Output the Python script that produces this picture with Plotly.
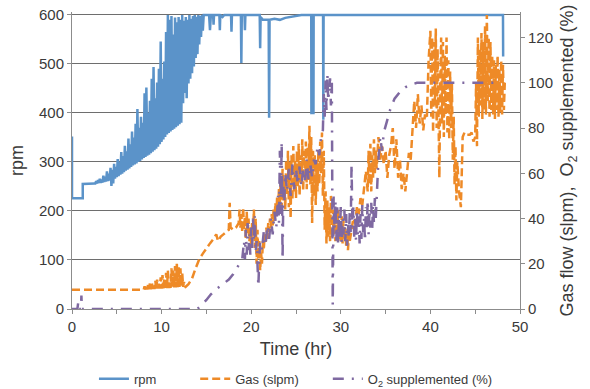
import plotly.graph_objects as go

# ---------------- rpm (left axis) ----------------
rpm_t = [0, 0, 1.2, 1.2, 2.5,
         2.6, 2.7, 2.8, 2.9, 3.0, 3.1, 3.2, 3.3, 3.4, 3.5, 3.6, 3.7, 3.8, 3.9,
         4.0, 4.1, 4.2, 4.3, 4.4, 4.5, 4.6, 4.7, 4.8, 4.9, 5.0, 5.1, 5.2, 5.3,
         5.4, 5.5, 5.6, 5.7, 5.8, 5.9, 6.0, 6.1, 6.2, 6.3, 6.4, 6.5, 6.6, 6.7,
         6.8, 6.9, 7.0, 7.1, 7.2, 7.3, 7.4, 7.5, 7.6, 7.7, 7.8, 7.9, 8.0, 8.1,
         8.2, 8.3, 8.4, 8.5, 8.6, 8.7, 8.8, 8.9, 9.0, 9.1, 9.2, 9.3, 9.4, 9.5,
         9.6, 9.7, 9.8, 9.9, 10.0, 10.1, 10.2, 10.3, 10.4, 10.5, 10.6, 10.7,
         10.8, 10.9, 11.0, 11.1, 11.2, 11.3, 11.4, 11.5, 11.6, 11.7, 11.8, 11.9,
         12.0, 12.1, 12.2, 12.3, 12.4, 12.5, 12.6, 12.7, 12.8, 12.9, 13.0, 13.1,
         13.2, 13.3, 13.4, 13.5, 13.6, 13.7, 13.8, 13.9, 14.0, 14.1, 14.2, 14.3,
         14.4, 14.5, 14.6, 14.7,
         14.9, 15.3, 15.4, 15.5, 15.75, 15.8, 15.85, 16.45, 16.5, 16.55, 16.8, 17.0,
         17.75, 17.8, 17.85, 18.85, 18.9, 18.95, 19.25, 19.3, 19.35, 20.95, 21.0, 21.05,
         21.3, 21.95, 22.0, 22.05, 22.6, 23.2, 23.8, 24.5, 25.3, 25.6, 26.7, 26.72,
         26.95, 26.97, 28.02, 28.05, 28.08, 48.1, 48.12]
rpm_v = [352, 226, 226, 255, 256,
         256, 261, 256, 263, 257, 266, 257, 264, 258, 272, 259, 270, 260, 281,
         261, 276, 262, 288, 251, 284, 256, 296, 266, 290, 269, 306, 271, 300,
         274, 320, 276, 312, 279, 333, 282, 322, 284, 348, 287, 336, 290, 362,
         293, 350, 295, 378, 297, 408, 300, 370, 302, 392, 305, 380, 308, 440,
         310, 452, 313, 400, 315, 425, 318, 470, 321, 494, 324, 430, 327, 462,
         331, 490, 336, 546, 341, 470, 346, 505, 351, 565, 356, 600,
         359, 590, 362, 598, 365, 560, 368, 595, 371, 585, 374, 596,
         377, 590, 380, 600, 420, 588, 441, 596, 430, 590, 460, 600,
         470, 592, 481, 598, 495, 600, 512, 596, 520, 600, 540, 598,
         555, 600, 568, 600,
         600, 600, 569, 600, 600, 580, 600, 600, 569, 600, 596, 600,
         600, 566, 600, 600, 502, 600, 600, 569, 600, 600, 532, 596,
         590, 590, 390, 590, 592, 590, 594, 596, 598, 600, 600, 400,
         400, 600, 600, 386, 600, 600, 515]

# ---------------- Gas flow, slpm (right axis) ----------------
gas_t = [0.0, 8.0,
         8.1, 8.2, 8.3, 8.4, 8.5, 8.6, 8.7, 8.8, 8.9, 9.0, 9.1, 9.2, 9.3, 9.4, 9.5,
         9.6, 9.7, 9.8, 9.9, 10.0, 10.1, 10.2, 10.3, 10.4, 10.5, 10.6, 10.7, 10.8,
         10.9, 11.0, 11.1, 11.2, 11.3, 11.4, 11.5, 11.6, 11.7, 11.8, 11.9, 12.0,
         12.1, 12.2, 12.3, 12.4, 12.5,
         12.6, 13.0, 13.4, 13.8, 14.2, 14.6, 15.0, 15.4, 15.8, 16.1, 16.3, 16.6,
         16.9, 17.2, 17.5, 17.6, 17.7, 18.0, 18.3, 18.6,
         18.7, 18.8, 18.9, 19.0, 19.1, 19.2, 19.3, 19.4, 19.5, 19.6, 19.7, 19.8,
         19.9, 20.0, 20.1, 20.2, 20.3, 20.4, 20.5, 20.6, 20.7, 20.8, 20.9, 21.0,
         21.1, 21.2, 21.3, 21.4, 21.5, 21.6, 21.7, 21.8, 21.9, 22.0, 22.1, 22.2,
         22.3, 22.4, 22.5, 22.6, 22.7, 22.8, 22.9, 23.0, 23.1, 23.2, 23.3, 23.4,
         23.5, 23.6, 23.7, 23.8, 23.9, 24.0, 24.1, 24.2, 24.3, 24.4, 24.5, 24.6,
         24.7, 24.8, 24.9, 25.0, 25.1, 25.2, 25.3, 25.4, 25.5, 25.6, 25.7, 25.8,
         25.9, 26.0, 26.1, 26.2, 26.3, 26.4, 26.5, 26.6, 26.7, 26.8, 26.9, 27.0,
         27.1, 27.2, 27.3, 27.4, 27.5, 27.6, 27.7, 27.8, 27.9, 28.0, 28.1, 28.2,
         28.3, 28.4, 28.5, 28.6, 28.7, 28.8, 28.9, 29.0, 29.1, 29.2, 29.3, 29.4,
         29.5, 29.6, 29.7, 29.8, 29.9, 30.0, 30.1, 30.2, 30.3, 30.4, 30.5, 30.6,
         30.7, 30.8, 30.9, 31.0, 31.2, 31.4, 31.6, 31.8, 32.0, 32.2, 32.4, 32.6,
         32.8, 33.0, 33.1, 33.2, 33.3, 33.4, 33.5, 33.6, 33.7, 33.8, 33.9, 34.0,
         34.2, 34.4, 34.6, 34.8, 35.0, 35.2, 35.4, 35.6, 35.8, 36.0, 36.2, 36.4,
         36.6, 36.8, 37.0, 37.2, 37.4, 37.6, 37.8, 38.0, 38.2, 38.4, 38.6, 38.8,
         39.0, 39.2, 39.4, 39.6, 39.8, 40.0, 40.1, 40.2, 40.3, 40.4, 40.5, 40.6,
         40.7, 40.8, 40.9, 41.0, 41.1, 41.2, 41.3, 41.4, 41.5, 41.6, 41.7, 41.8,
         41.9, 42.0, 42.1, 42.2, 42.3, 42.4, 42.5, 42.6, 42.7, 42.8, 42.9, 43.0,
         43.2, 43.4, 43.5, 43.6, 43.8, 44.0, 44.4, 44.6, 44.8, 45.0, 45.1, 45.2,
         45.3, 45.4, 45.5, 45.6, 45.7, 45.8, 45.9, 46.0, 46.1, 46.2, 46.3, 46.4,
         46.5, 46.6, 46.7, 46.8, 46.9, 47.0, 47.1, 47.2, 47.3, 47.4, 47.5, 47.6,
         47.7, 47.8, 47.9, 48.0, 48.1, 48.2, 48.3]
gas_v = [8.5, 8.5,
         10, 8.6, 10.5, 8.6, 11, 8.7, 11.5, 8.7, 12, 8.8, 11, 8.8, 12.5, 8.9, 13,
         9, 12, 9, 14, 9, 15, 9.1, 13, 9.2, 16, 9.2, 17, 9.3,
         12, 9.3, 18, 9.4, 17, 9.5, 19, 9.5, 20, 9.6, 19, 9.7,
         18, 9.8, 16, 9.8, 12,
         9.5, 11, 13.5, 18, 22, 24.5, 27, 29, 31, 33, 30, 32,
         33, 34, 35, 47, 36, 35, 36, 38,
         44, 36, 42, 34, 45, 35, 41, 31, 43, 33, 40, 30,
         36, 28, 38, 32, 44, 27, 40, 20, 35, 22, 30, 17,
         25, 20, 30, 26, 33, 29, 36, 31, 38, 34, 40, 36,
         42, 37, 44, 39, 47, 41, 50, 44, 53, 46, 57, 45,
         62, 48, 58, 44, 66, 50, 70, 45, 65, 40, 68, 48,
         72, 52, 66, 49, 70, 54, 73, 50, 68, 55, 75, 52,
         70, 56, 74, 53, 72, 57, 81, 55, 76, 38, 70, 50,
         68, 46, 65, 52, 70, 55, 74, 60, 78, 50, 70, 35,
         52, 29, 48, 32, 45, 30, 50, 31, 44, 33, 42, 30,
         40, 32, 44, 31, 38, 30, 41, 29, 39, 31, 36, 28,
         34, 26, 33, 30, 36, 40, 38, 45, 42, 49, 46, 55,
         61, 52, 70, 55, 73, 52, 68, 58, 75, 60, 70, 62,
         76, 66, 72, 64, 70, 58, 68, 72, 80, 62, 75, 58,
         66, 53, 60, 52, 62, 69, 66, 78, 92, 80, 95, 82,
         90, 79, 86, 84, 110, 123, 85, 120, 78, 118, 90, 124,
         80, 115, 95, 58, 100, 120, 82, 118, 76, 112, 86, 120,
         78, 110, 75, 105, 80, 100, 66, 85, 55, 72, 48, 65,
         52, 45, 60, 76, 78, 77, 77, 78, 74, 76, 100, 72,
         120, 85, 115, 90, 122, 84, 118, 88, 125, 86, 130, 92,
         120, 85, 118, 88, 112, 86, 110, 84, 108, 88, 112, 85,
         106, 87, 110, 86, 108, 88, 100]

# ---------------- O2 supplemented, % (right axis) ----------------
o2_t = [0.0, 0.6, 0.7, 0.8, 1.0, 1.05, 1.1, 14.0,
        14.5, 15.0, 15.5, 16.0, 16.5, 17.0, 17.5, 18.0, 18.5, 19.0,
        19.2, 19.3, 19.4, 19.5, 19.6, 19.7, 19.8, 19.9, 20.0, 20.1, 20.2, 20.3,
        20.4, 20.5, 20.6, 20.7, 20.8, 20.9, 21.0, 21.2, 21.4, 21.6, 21.8, 22.0,
        22.2, 22.4, 22.6, 22.8, 23.0, 23.1, 23.2, 23.3, 23.4, 23.5, 23.6, 23.7,
        23.8, 24.0, 24.2, 24.4, 24.6, 24.8, 25.0, 25.2, 25.4, 25.6, 25.8, 26.0,
        26.2, 26.4, 26.6, 26.8, 27.0, 27.2, 27.4, 27.6, 27.8, 28.0, 28.1, 28.2,
        28.3, 28.4, 28.5, 28.6, 28.8, 28.9, 29.0, 29.1, 29.2, 29.3, 29.4, 29.5,
        29.6, 29.7, 29.8, 29.9, 30.0, 30.1, 30.2, 30.3, 30.4, 30.5, 30.6, 30.7,
        30.8, 30.9, 31.0, 31.1, 31.2, 31.3, 31.4, 31.5, 31.6, 31.7, 31.8, 31.9,
        32.0, 32.1, 32.2, 32.3, 32.4, 32.5, 32.6, 32.7, 32.8, 32.9, 33.0, 33.1,
        33.2, 33.3, 33.4, 33.5, 33.6, 33.7, 33.8, 33.9, 34.0, 34.2, 34.4, 34.6,
        34.8, 35.1, 35.5, 36.0, 36.6, 37.2, 37.7, 38.5, 47.4]
o2_v = [0, 0, 3, 0, 0, 6, 0, 0,
        2, 4, 6.5, 8.5, 10, 11.5, 13, 15.5, 19, 22,
        30, 22, 35, 24, 38, 26, 33, 24, 36, 27, 40, 30,
        41, 25, 30, 18, 10, 22, 30, 26, 34, 28, 37, 31,
        40, 33, 43, 36, 50, 38, 70, 42, 74, 22, 55, 48,
        60, 52, 62, 50, 64, 53, 62, 55, 63, 54, 62, 56,
        66, 57, 64, 58, 66, 64, 72, 68, 76, 79, 95, 85,
        101, 88, 104, 92, 102, 90, 100, 2, 50, 35, 48, 30,
        45, 28, 42, 32, 46, 29, 40, 33, 44, 30, 42, 28,
        38, 31, 43, 34, 64, 36, 45, 32, 40, 30, 44, 33,
        41, 29, 42, 31, 46, 34, 40, 30, 45, 35, 48, 33,
        44, 36, 47, 35, 46, 38, 49, 40, 52, 66, 76, 70,
        78, 82, 88, 93, 96, 98, 99, 100, 100]

BLUE = "#5b93c9"
ORANGE = "#ee8a27"
PURPLE = "#7f69a1"
TEXT = "#3a3a3a"
AXIS = "#8c8c8c"

fig = go.Figure()
fig.add_trace(go.Scatter(x=rpm_t, y=rpm_v, mode="lines", name="rpm",
                         legend="legend",
                         line=dict(color=BLUE, width=2.5)))
fig.add_trace(go.Scatter(x=gas_t, y=gas_v, mode="lines", name="Gas (slpm)",
                         legend="legend2", yaxis="y2",
                         line=dict(color=ORANGE, width=2.5, dash="8px,4px")))
fig.add_trace(go.Scatter(x=o2_t, y=o2_v, mode="lines",
                         name="O<sub>2</sub> supplemented (%)",
                         legend="legend3", yaxis="y2",
                         line=dict(color=PURPLE, width=2.5, dash="11px,8px,2px,8px")))

legend_common = dict(orientation="h", y=-0.235, yanchor="middle", xanchor="left",
                     font=dict(size=13), bgcolor="rgba(0,0,0,0)")

# left axis spans 0-606 so the 600 line is not clipped; right axis scaled to match
fig.update_layout(
    width=590, height=389,
    margin=dict(l=72, r=70, t=12, b=80, autoexpand=False),
    paper_bgcolor="white", plot_bgcolor="white",
    font=dict(family="Liberation Sans, Arial, sans-serif", size=15, color=TEXT),
    showlegend=True,
    legend=dict(x=0.049, **legend_common),
    legend2=dict(x=0.275, **legend_common),
    legend3=dict(x=0.571, **legend_common),
    xaxis=dict(range=[0, 50], tickvals=[0, 10, 20, 30, 40, 50], showgrid=False,
               zeroline=False, showline=True, linecolor=AXIS, linewidth=1,
               ticks="outside", ticklen=4, tickcolor=AXIS,
               minor=dict(dtick=5, ticks="outside", ticklen=4, tickcolor=AXIS),
               title=dict(text="Time (hr)", standoff=8)),
    yaxis=dict(range=[0, 606], tickvals=[0, 100, 200, 300, 400, 500, 600],
               showgrid=True, gridcolor="#6e6e6e", gridwidth=1, zeroline=False,
               showline=True, linecolor=AXIS, linewidth=1,
               ticks="outside", ticklen=4, tickcolor=AXIS,
               title=dict(text="rpm", standoff=10)),
    yaxis2=dict(range=[0, 131.3], tickvals=[0, 20, 40, 60, 80, 100, 120],
                overlaying="y", side="right", showgrid=False, zeroline=False,
                showline=True, linecolor=AXIS, linewidth=1,
                ticks="outside", ticklen=4, tickcolor=AXIS,
                title=dict(text="Gas flow (slpm),  O<sub>2</sub> supplemented (%)",
                           standoff=8)),
)

fig.write_html("out.html")
